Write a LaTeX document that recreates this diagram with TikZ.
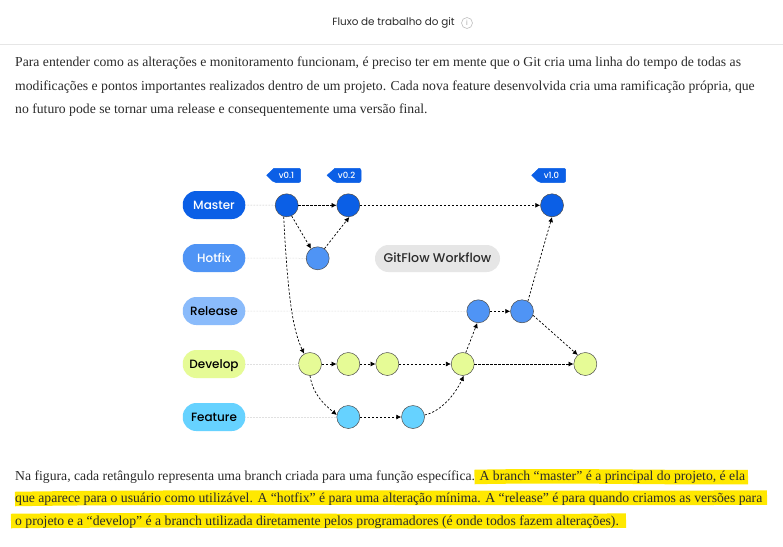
\documentclass[tikz,border=0pt]{standalone}
\usepackage{fontspec}
\setmainfont{Liberation Serif}
\setsansfont{Poppins}
\newfontfamily\pillfont{Poppins Medium}
\usetikzlibrary{arrows.meta,shapes.geometric}
\definecolor{cmaster}{HTML}{0B5FE6}
\definecolor{chot}{HTML}{4F94F5}
\definecolor{crel}{HTML}{8ABBFB}
\definecolor{cdev}{HTML}{E6FB96}
\definecolor{cfeat}{HTML}{66D2FF}
\definecolor{cgrey}{HTML}{E6E6E6}
\definecolor{cmark}{HTML}{FFE800}
\definecolor{ctxt}{HTML}{2B2B2B}
\tikzset{
  x=1pt,y=-1pt,
  pill/.style={rounded corners=13.5pt,minimum width=62.5pt,minimum height=28pt,inner sep=0pt,text height=8.5pt,text depth=0pt,font=\pillfont\fontsize{12}{13}\selectfont},
  commit/.style={circle,draw=black!70,line width=0.5pt,minimum size=23pt,inner sep=0pt},
  link/.style={dash pattern=on 2.2pt off 1.8pt,line width=0.7pt,black,-{Latex[length=5pt,width=5pt]}},
  guide/.style={densely dotted,line width=0.5pt,black!20},
  tagfill/.style={fill=cmaster,draw=cmaster,line join=round,line width=0.5pt},
  tagtext/.style={text=white,inner sep=0pt,font=\pillfont\fontsize{8.5}{9}\selectfont},
  para/.style={anchor=base west,inner sep=0pt,text=ctxt,font=\rmfamily\fontsize{13.7}{14}\selectfont},
  hilite/.style={cmark,line width=14.5pt,line cap=butt,line join=round}
}
\begin{document}
\begin{tikzpicture}
\useasboundingbox (0,0) rectangle (783,546);
\fill[white] (0,0) rectangle (783,546);
% header
\node[inner sep=0pt,text=ctxt,font=\sffamily\fontsize{10.4}{11}\selectfont] (title) at (393.5,23) {Fluxo de trabalho do git};
\node[circle,draw=black!25,line width=0.6pt,minimum size=11pt,inner sep=0pt,text=black!35,font=\sffamily\fontsize{7}{8}\selectfont] (info) at (467,23) {i};
\draw[cgrey,line width=1pt] (0,44.5) -- (783,44.5);
% top paragraph
\node[para] (p1) at (15,66) {Para entender como as alterações e monitoramento funcionam, é preciso ter em mente que o Git cria uma linha do tempo de todas as};
\node[para] (p2) at (15,90) {modificações e pontos importantes realizados dentro de um projeto. Cada nova feature desenvolvida cria uma ramificação própria, que};
\node[para] (p3) at (15,113) {no futuro pode se tornar uma release e consequentemente uma versão final.};
% highlighter
\draw[hilite] (474.5,477) .. controls (560,475) and (680,478) .. (748,477);
\draw[hilite] (15,499) .. controls (200,496) and (500,499) .. (767,497.5);
\draw[hilite] (11,521) .. controls (200,519) and (450,523) .. (626,520.5);
% bottom paragraph
\node[para] (b1) at (15,480) {Na figura, cada retângulo representa uma branch criada para uma função específica. A branch “master” é a principal do projeto, é ela};
\node[para] (b2) at (15,502.5) {que aparece para o usuário como utilizável. A “hotfix” é para uma alteração mínima. A “release” é para quando criamos as versões para};
\node[para] (b3) at (15,525.5) {o projeto e a “develop” é a branch utilizada diretamente pelos programadores (é onde todos fazem alterações).};
% branch labels
\node[pill,fill=cmaster,text=white] (lm) at (214,205) {Master};
\node[pill,fill=chot,text=white] (lh) at (214,258) {Hotfix};
\node[pill,fill=crel,text=black] (lr) at (214,311) {Release};
\node[pill,fill=cdev,text=black] (ld) at (214,364) {Develop};
\node[pill,fill=cfeat,text=black] (lf) at (214,417) {Feature};
\node[pill,fill=cgrey,text=ctxt,minimum width=125pt,minimum height=27pt,font=\pillfont\fontsize{12.6}{13}\selectfont] (gf) at (437.5,258.5) {GitFlow Workflow};
% commits
\node[commit,fill=cmaster] (m1) at (286.7,205.3) {};
\node[commit,fill=cmaster] (m2) at (348.3,205.3) {};
\node[commit,fill=cmaster] (m3) at (552,205.3) {};
\node[commit,fill=chot] (h1) at (317.7,258.3) {};
\node[commit,fill=chot] (r1) at (478.3,311.3) {};
\node[commit,fill=chot] (r2) at (522,311.3) {};
\node[commit,fill=cdev] (d1) at (310,364) {};
\node[commit,fill=cdev] (d2) at (348.3,364) {};
\node[commit,fill=cdev] (d3) at (387.3,364) {};
\node[commit,fill=cdev] (d4) at (462.7,364) {};
\node[commit,fill=cdev] (d5) at (585.3,364) {};
\node[commit,fill=cfeat] (f1) at (348.3,417) {};
\node[commit,fill=cfeat] (f2) at (413,417) {};
% guides
\draw[guide,black!35] (lm) -- (m1);
\draw[guide] (lh) -- (h1);
\draw[guide] (lr) -- (r1);
\draw[guide,black!12] (ld) -- (d1);
\draw[guide,black!12] (lf) -- (f1);
% tags
\fill[tagfill] (266.7,175.3) -- (274,168.3) -- (298.7,168.3) [rounded corners=2pt] -- (300.7,168.3) -- (300.7,182.5) -- (274,182.5) [sharp corners] -- cycle;
\fill[tagfill] (327,175.3) -- (335,168.3) -- (359,168.3) [rounded corners=2pt] -- (361,168.3) -- (361,182.5) -- (335,182.5) [sharp corners] -- cycle;
\fill[tagfill] (531.7,175.3) -- (539,168.3) -- (564,168.3) [rounded corners=2pt] -- (565.7,168.3) -- (565.7,182.5) -- (539,182.5) [sharp corners] -- cycle;
\node[tagtext] (t1) at (286.5,175.3) {v0.1};
\node[tagtext] (t2) at (346.5,175.3) {v0.2};
\node[tagtext] (t3) at (551.5,175.3) {v1.0};
% connectors
\draw[link] (m1) -- (m2);
\draw[link] (m2) -- (m3);
\draw[link] (m1.-65) -- (h1.125);
\draw[link] (h1.55) -- (m2.-85);
\draw[link] (m1.-105) .. controls (288,300) and (293,330) .. (d1.120);
\draw[link] (d1) -- (d2);
\draw[link] (d2) -- (d3);
\draw[link] (d3) -- (d4);
\draw[link] (d4) -- (d5);
\draw[link] (d1.-90) .. controls (313,395) and (325,405) .. (f1.170);
\draw[link] (f1) -- (f2);
\draw[link] (f2.10) .. controls (440,412) and (455,395) .. (d4.-85);
\draw[link] (d4.75) -- (r1.-95);
\draw[link] (r1) -- (r2);
\draw[link] (r2.60) -- (m3.-90);
\draw[link] (r2.-20) -- (d5.130);
\end{tikzpicture}
\end{document}
